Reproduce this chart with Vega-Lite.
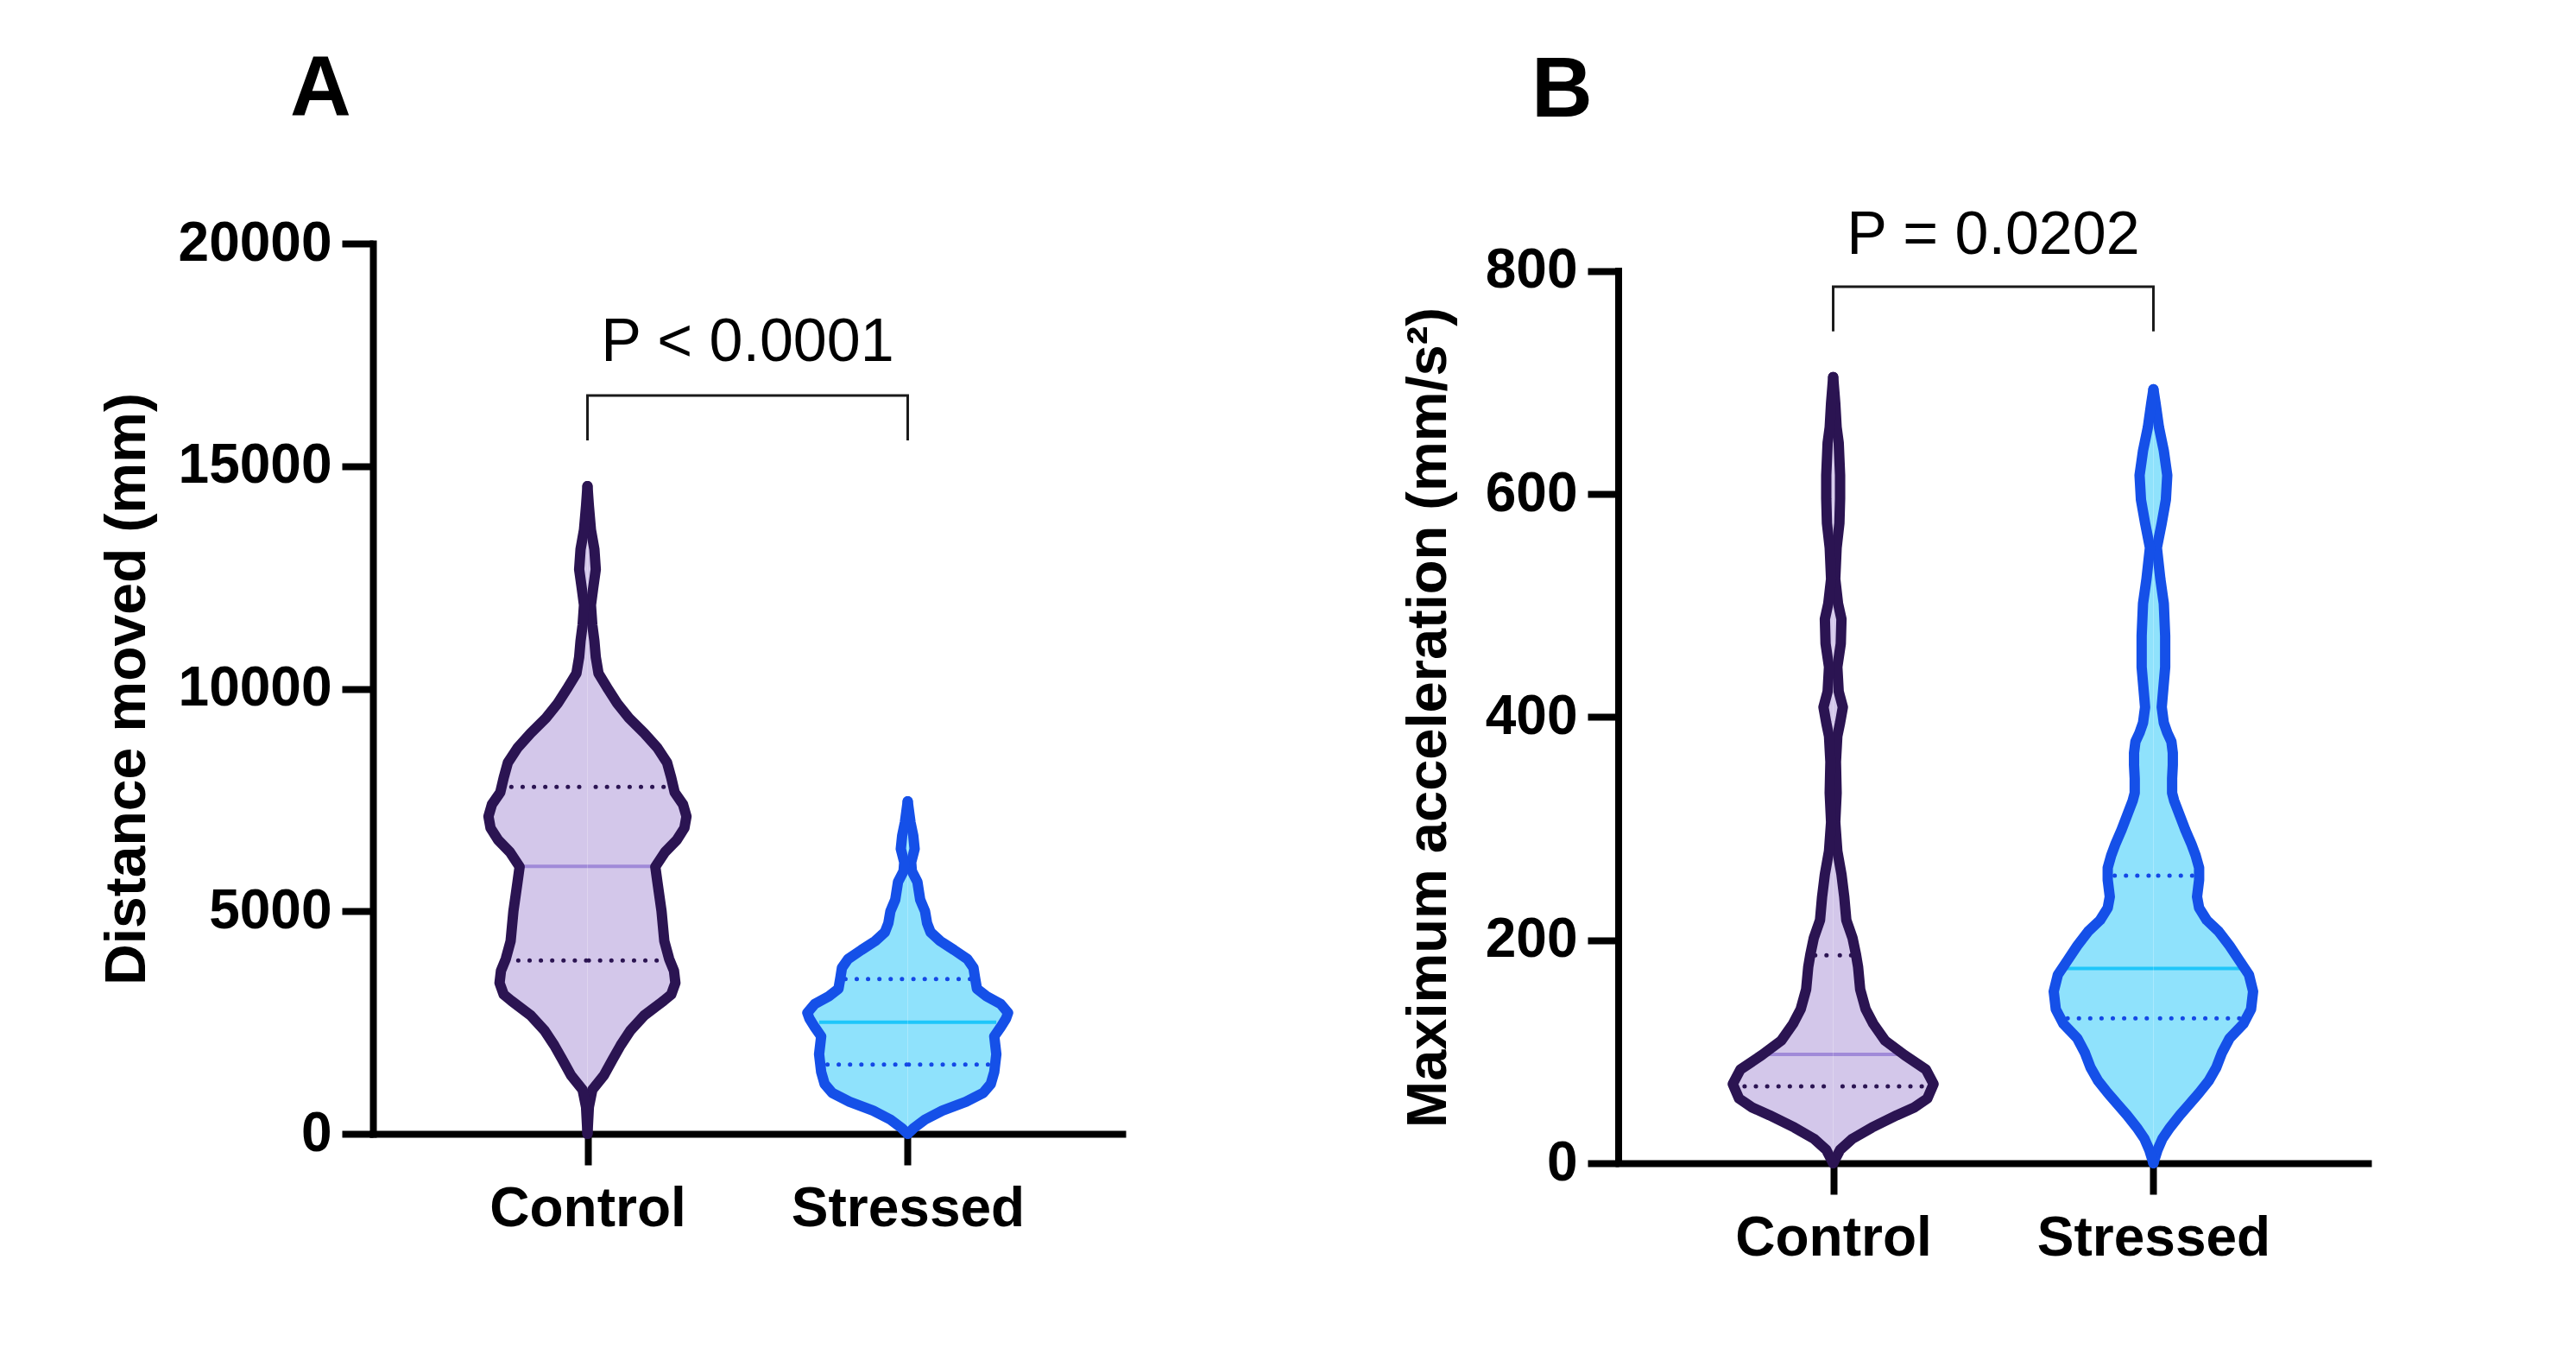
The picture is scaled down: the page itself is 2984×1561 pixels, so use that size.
{
  "$schema": "https://vega.github.io/schema/vega-lite/v6.json",
  "padding": {"left": 114, "top": 55, "right": 20, "bottom": 20},
  "background": "white",
  "spacing": 322,
  "columns": 2,
  "align": "none",
  "datasets": {
    "vA": [
      {"g":"Control","v":0,"w":0},{"g":"Control","v":600,"w":2},{"g":"Control","v":990,"w":7},{"g":"Control","v":1320,"w":24},{"g":"Control","v":1660,"w":36},{"g":"Control","v":1990,"w":48},{"g":"Control","v":2320,"w":62},{"g":"Control","v":2660,"w":82},{"g":"Control","v":2990,"w":110},{"g":"Control","v":3130,"w":121},{"g":"Control","v":3390,"w":127},{"g":"Control","v":3660,"w":125},{"g":"Control","v":3930,"w":118},{"g":"Control","v":4330,"w":111},{"g":"Control","v":5000,"w":107},{"g":"Control","v":5660,"w":101},{"g":"Control","v":6000,"w":98},{"g":"Control","v":6330,"w":112},{"g":"Control","v":6600,"w":129},{"g":"Control","v":6870,"w":140},{"g":"Control","v":7130,"w":143},{"g":"Control","v":7400,"w":138},{"g":"Control","v":7670,"w":126},{"g":"Control","v":8000,"w":121},{"g":"Control","v":8340,"w":115},{"g":"Control","v":8670,"w":101},{"g":"Control","v":9000,"w":82},{"g":"Control","v":9340,"w":60},{"g":"Control","v":9670,"w":43},{"g":"Control","v":10010,"w":29},{"g":"Control","v":10340,"w":16},{"g":"Control","v":10710,"w":12},{"g":"Control","v":11070,"w":10},{"g":"Control","v":11430,"w":7},{"g":"Control","v":11880,"w":5},{"g":"Control","v":12230,"w":8},{"g":"Control","v":12680,"w":12},{"g":"Control","v":13130,"w":10},{"g":"Control","v":13570,"w":5},{"g":"Control","v":14110,"w":2},{"g":"Control","v":14550,"w":0},
      {"g":"Stressed","v":0,"w":0},{"g":"Stressed","v":120,"w":8},{"g":"Stressed","v":320,"w":25},{"g":"Stressed","v":520,"w":50},{"g":"Stressed","v":720,"w":84},{"g":"Stressed","v":920,"w":109},{"g":"Stressed","v":1120,"w":120},{"g":"Stressed","v":1390,"w":125},{"g":"Stressed","v":1790,"w":128},{"g":"Stressed","v":2190,"w":125},{"g":"Stressed","v":2390,"w":134},{"g":"Stressed","v":2590,"w":142},{"g":"Stressed","v":2720,"w":145},{"g":"Stressed","v":2920,"w":134},{"g":"Stressed","v":3090,"w":114},{"g":"Stressed","v":3260,"w":100},{"g":"Stressed","v":3530,"w":97},{"g":"Stressed","v":3730,"w":95},{"g":"Stressed","v":3930,"w":86},{"g":"Stressed","v":4130,"w":67},{"g":"Stressed","v":4330,"w":47},{"g":"Stressed","v":4530,"w":33},{"g":"Stressed","v":4730,"w":28},{"g":"Stressed","v":5000,"w":25},{"g":"Stressed","v":5260,"w":18},{"g":"Stressed","v":5660,"w":14},{"g":"Stressed","v":5900,"w":6},{"g":"Stressed","v":6100,"w":5},{"g":"Stressed","v":6400,"w":10},{"g":"Stressed","v":6700,"w":8},{"g":"Stressed","v":7000,"w":4},{"g":"Stressed","v":7470,"w":0}
    ],
    "qA": [
      {"g":"Control","stat":"Q1","v":3894,"w":100},{"g":"Control","stat":"median","v":6011,"w":93},{"g":"Control","stat":"Q3","v":7795,"w":110},
      {"g":"Stressed","stat":"Q1","v":1556,"w":116},{"g":"Stressed","stat":"median","v":2505,"w":128},{"g":"Stressed","stat":"Q3","v":3479,"w":90}
    ],
    "vB": [
      {"g":"Control","v":0,"w":0},{"g":"Control","v":12,"w":10},{"g":"Control","v":22,"w":28},{"g":"Control","v":32,"w":56},{"g":"Control","v":43,"w":92},{"g":"Control","v":50,"w":117},{"g":"Control","v":58,"w":136},{"g":"Control","v":71,"w":145},{"g":"Control","v":84,"w":134},{"g":"Control","v":97,"w":103},{"g":"Control","v":110,"w":75},{"g":"Control","v":125,"w":58},{"g":"Control","v":138,"w":47},{"g":"Control","v":156,"w":39},{"g":"Control","v":176,"w":36},{"g":"Control","v":187,"w":33},{"g":"Control","v":202,"w":28},{"g":"Control","v":218,"w":19},{"g":"Control","v":239,"w":16},{"g":"Control","v":259,"w":12},{"g":"Control","v":280,"w":6},{"g":"Control","v":306,"w":3},{"g":"Control","v":332,"w":5},{"g":"Control","v":360,"w":4},{"g":"Control","v":383,"w":6},{"g":"Control","v":395,"w":10},{"g":"Control","v":409,"w":14},{"g":"Control","v":423,"w":8},{"g":"Control","v":445,"w":6},{"g":"Control","v":466,"w":11},{"g":"Control","v":488,"w":12},{"g":"Control","v":502,"w":7},{"g":"Control","v":524,"w":3},{"g":"Control","v":552,"w":5},{"g":"Control","v":574,"w":9},{"g":"Control","v":596,"w":10},{"g":"Control","v":617,"w":10},{"g":"Control","v":646,"w":8},{"g":"Control","v":660,"w":5},{"g":"Control","v":682,"w":3},{"g":"Control","v":705,"w":0},
      {"g":"Stressed","v":0,"w":0},{"g":"Stressed","v":12,"w":6},{"g":"Stressed","v":22,"w":13},{"g":"Stressed","v":32,"w":24},{"g":"Stressed","v":43,"w":38},{"g":"Stressed","v":53,"w":52},{"g":"Stressed","v":63,"w":66},{"g":"Stressed","v":74,"w":80},{"g":"Stressed","v":86,"w":91},{"g":"Stressed","v":99,"w":99},{"g":"Stressed","v":112,"w":110},{"g":"Stressed","v":125,"w":130},{"g":"Stressed","v":138,"w":141},{"g":"Stressed","v":154,"w":144},{"g":"Stressed","v":169,"w":138},{"g":"Stressed","v":182,"w":124},{"g":"Stressed","v":195,"w":110},{"g":"Stressed","v":208,"w":94},{"g":"Stressed","v":218,"w":77},{"g":"Stressed","v":229,"w":66},{"g":"Stressed","v":239,"w":63},{"g":"Stressed","v":254,"w":66},{"g":"Stressed","v":265,"w":66},{"g":"Stressed","v":276,"w":61},{"g":"Stressed","v":286,"w":55},{"g":"Stressed","v":299,"w":46},{"g":"Stressed","v":312,"w":38},{"g":"Stressed","v":325,"w":30},{"g":"Stressed","v":332,"w":27},{"g":"Stressed","v":345,"w":27},{"g":"Stressed","v":357,"w":28},{"g":"Stressed","v":368,"w":28},{"g":"Stressed","v":378,"w":26},{"g":"Stressed","v":386,"w":20},{"g":"Stressed","v":395,"w":15},{"g":"Stressed","v":409,"w":12},{"g":"Stressed","v":445,"w":17},{"g":"Stressed","v":473,"w":17},{"g":"Stressed","v":502,"w":15},{"g":"Stressed","v":524,"w":10},{"g":"Stressed","v":552,"w":5},{"g":"Stressed","v":574,"w":12},{"g":"Stressed","v":595,"w":18},{"g":"Stressed","v":617,"w":20},{"g":"Stressed","v":639,"w":15},{"g":"Stressed","v":660,"w":8},{"g":"Stressed","v":682,"w":3},{"g":"Stressed","v":694,"w":0}
    ],
    "qB": [
      {"g":"Control","stat":"Q1","v":69,"w":128},{"g":"Control","stat":"median","v":97.5,"w":100},{"g":"Control","stat":"Q3","v":186.4,"w":26},
      {"g":"Stressed","stat":"Q1","v":130,"w":124},{"g":"Stressed","stat":"median","v":174.7,"w":130},{"g":"Stressed","stat":"Q3","v":257.8,"w":56}
    ]
  },
  "concat": [
    {
      "title": {"text": "A", "dx": -96, "offset": 96},
      "width": 868,
      "height": 1031,
      "resolve": {"scale": {"x": "independent"}, "axis": {"x": "independent"}},
      "layer": [
        {
          "data": {"name": "vA"}, "transform": [{"filter": "datum.g == 'Control'"}],
          "mark": {"type": "area", "orient": "horizontal", "color": "#d3c7ea", "opacity": 1},
          "encoding": {
            "y": {"field": "v", "type": "quantitative", "scale": {"domain": [0, 20000], "nice": false, "zero": true}, "axis": {"values": [0, 5000, 10000, 15000, 20000], "format": "d", "title": "Distance moved (mm)", "titlePadding": 51, "titleFontSize": 66, "domainCap": "square"}},
            "x": {"field": "w", "type": "quantitative", "stack": null, "scale": {"domain": [-309.9, 772.5], "nice": false, "zero": false}, "axis": null},
            "x2": {"datum": 0}
          }
        },
        {
          "layer": [
            {
              "data": {"name": "qA"},
              "transform": [{"filter": "datum.stat == 'median'"}],
              "mark": {"type": "rule", "color": "#1a1a1a", "strokeWidth": 3},
              "encoding": {
                "x": {"field": "g", "type": "nominal", "scale": {"type": "point", "padding": 0.67, "domain": ["Control", "Stressed"]}, "axis": {"title": null, "labelAngle": 0, "labelPadding": 19, "labelLimit": 1000, "domainCap": "square"}},
                "y": {"datum": 15577, "type": "quantitative", "scale": {"domain": [0, 20000], "nice": false, "zero": true}},
                "y2": {"datum": 16586}
              }
            },
            {
              "data": {"name": "qA"},
              "transform": [{"filter": "datum.stat == 'median' && datum.g == 'Control'"}],
              "mark": {"type": "rule", "color": "#1a1a1a", "strokeWidth": 3, "strokeCap": "square"},
              "encoding": {
                "x": {"field": "g", "type": "nominal", "scale": {"type": "point", "padding": 0.67, "domain": ["Control", "Stressed"]}},
                "x2": {"datum": "Stressed"},
                "y": {"datum": 16586, "type": "quantitative", "scale": {"domain": [0, 20000], "nice": false, "zero": true}}
              }
            }
          ]
        },
        {
          "data": {"name": "qA"},
          "transform": [{"filter": "datum.stat == 'median' && datum.g == 'Control'"}],
          "mark": {"type": "text", "font": "Liberation Sans", "fontSize": 70, "color": "black", "baseline": "alphabetic", "align": "center"},
          "encoding": {
            "x": {"datum": 0.5, "type": "quantitative", "scale": {"domain": [0, 1], "nice": false, "zero": false}, "axis": null},
            "y": {"datum": 17362, "type": "quantitative", "scale": {"domain": [0, 20000], "nice": false, "zero": true}},
            "text": {"value": "P < 0.0001"}
          }
        },
        {
          "layer": [
            {
              "data": {"name": "qA"}, "transform": [{"filter": "datum.g == 'Control' && datum.stat != 'median'"}],
              "mark": {"type": "rule", "color": "#2b1452", "strokeWidth": 5, "strokeDash": [0.1, 13], "strokeCap": "round"},
              "encoding": {
                "y": {"field": "v", "type": "quantitative", "scale": {"domain": [0, 20000], "nice": false, "zero": true}},
                "x": {"field": "w", "type": "quantitative", "scale": {"domain": [-309.9, 772.5], "nice": false, "zero": false}, "axis": null},
                "x2": {"datum": 0}
              }
            },
            {
              "data": {"name": "qA"}, "transform": [{"filter": "datum.g == 'Control' && datum.stat == 'median'"}],
              "mark": {"type": "rule", "color": "#a08ad8", "strokeWidth": 4},
              "encoding": {
                "y": {"field": "v", "type": "quantitative", "scale": {"domain": [0, 20000], "nice": false, "zero": true}},
                "x": {"field": "w", "type": "quantitative", "scale": {"domain": [-309.9, 772.5], "nice": false, "zero": false}, "axis": null},
                "x2": {"datum": 0}
              }
            },
            {
              "data": {"name": "vA"}, "transform": [{"filter": "datum.g == 'Control'"}],
              "mark": {"type": "line", "color": "#2b1452", "strokeWidth": 12, "strokeJoin": "round", "strokeCap": "round"},
              "encoding": {
                "y": {"field": "v", "type": "quantitative", "scale": {"domain": [0, 20000], "nice": false, "zero": true}},
                "x": {"field": "w", "type": "quantitative", "scale": {"domain": [-309.9, 772.5], "nice": false, "zero": false}, "axis": null},
                "order": {"field": "v", "type": "quantitative"}
              }
            }
          ]
        },
        {
          "layer": [
            {
              "data": {"name": "vA"}, "transform": [{"filter": "datum.g == 'Control'"}],
              "mark": {"type": "area", "orient": "horizontal", "color": "#d3c7ea", "opacity": 1},
              "encoding": {
                "y": {"field": "v", "type": "quantitative", "scale": {"domain": [0, 20000], "nice": false, "zero": true}},
                "x": {"field": "w", "type": "quantitative", "stack": null, "scale": {"domain": [-772.5, 309.9], "nice": false, "zero": false, "reverse": true}, "axis": null},
                "x2": {"datum": 0}
              }
            },
            {
              "data": {"name": "qA"}, "transform": [{"filter": "datum.g == 'Control' && datum.stat != 'median'"}],
              "mark": {"type": "rule", "color": "#2b1452", "strokeWidth": 5, "strokeDash": [0.1, 13], "strokeCap": "round"},
              "encoding": {
                "y": {"field": "v", "type": "quantitative", "scale": {"domain": [0, 20000], "nice": false, "zero": true}},
                "x": {"field": "w", "type": "quantitative", "scale": {"domain": [-772.5, 309.9], "nice": false, "zero": false, "reverse": true}, "axis": null},
                "x2": {"datum": 0}
              }
            },
            {
              "data": {"name": "qA"}, "transform": [{"filter": "datum.g == 'Control' && datum.stat == 'median'"}],
              "mark": {"type": "rule", "color": "#a08ad8", "strokeWidth": 4},
              "encoding": {
                "y": {"field": "v", "type": "quantitative", "scale": {"domain": [0, 20000], "nice": false, "zero": true}},
                "x": {"field": "w", "type": "quantitative", "scale": {"domain": [-772.5, 309.9], "nice": false, "zero": false, "reverse": true}, "axis": null},
                "x2": {"datum": 0}
              }
            },
            {
              "data": {"name": "vA"}, "transform": [{"filter": "datum.g == 'Control'"}],
              "mark": {"type": "line", "color": "#2b1452", "strokeWidth": 12, "strokeJoin": "round", "strokeCap": "round"},
              "encoding": {
                "y": {"field": "v", "type": "quantitative", "scale": {"domain": [0, 20000], "nice": false, "zero": true}},
                "x": {"field": "w", "type": "quantitative", "scale": {"domain": [-772.5, 309.9], "nice": false, "zero": false, "reverse": true}, "axis": null},
                "order": {"field": "v", "type": "quantitative"}
              }
            }
          ]
        },
        {
          "layer": [
            {
              "data": {"name": "vA"}, "transform": [{"filter": "datum.g == 'Stressed'"}],
              "mark": {"type": "area", "orient": "horizontal", "color": "#8fe2fc", "opacity": 1},
              "encoding": {
                "y": {"field": "v", "type": "quantitative", "scale": {"domain": [0, 20000], "nice": false, "zero": true}},
                "x": {"field": "w", "type": "quantitative", "stack": null, "scale": {"domain": [-772.5, 309.9], "nice": false, "zero": false}, "axis": null},
                "x2": {"datum": 0}
              }
            },
            {
              "data": {"name": "qA"}, "transform": [{"filter": "datum.g == 'Stressed' && datum.stat != 'median'"}],
              "mark": {"type": "rule", "color": "#1448e6", "strokeWidth": 5, "strokeDash": [0.1, 13], "strokeCap": "round"},
              "encoding": {
                "y": {"field": "v", "type": "quantitative", "scale": {"domain": [0, 20000], "nice": false, "zero": true}},
                "x": {"field": "w", "type": "quantitative", "scale": {"domain": [-772.5, 309.9], "nice": false, "zero": false}, "axis": null},
                "x2": {"datum": 0}
              }
            },
            {
              "data": {"name": "qA"}, "transform": [{"filter": "datum.g == 'Stressed' && datum.stat == 'median'"}],
              "mark": {"type": "rule", "color": "#1fc6fa", "strokeWidth": 4},
              "encoding": {
                "y": {"field": "v", "type": "quantitative", "scale": {"domain": [0, 20000], "nice": false, "zero": true}},
                "x": {"field": "w", "type": "quantitative", "scale": {"domain": [-772.5, 309.9], "nice": false, "zero": false}, "axis": null},
                "x2": {"datum": 0}
              }
            },
            {
              "data": {"name": "vA"}, "transform": [{"filter": "datum.g == 'Stressed'"}],
              "mark": {"type": "line", "color": "#1550e8", "strokeWidth": 12, "strokeJoin": "round", "strokeCap": "round"},
              "encoding": {
                "y": {"field": "v", "type": "quantitative", "scale": {"domain": [0, 20000], "nice": false, "zero": true}},
                "x": {"field": "w", "type": "quantitative", "scale": {"domain": [-772.5, 309.9], "nice": false, "zero": false}, "axis": null},
                "order": {"field": "v", "type": "quantitative"}
              }
            }
          ]
        },
        {
          "layer": [
            {
              "data": {"name": "vA"}, "transform": [{"filter": "datum.g == 'Stressed'"}],
              "mark": {"type": "area", "orient": "horizontal", "color": "#8fe2fc", "opacity": 1},
              "encoding": {
                "y": {"field": "v", "type": "quantitative", "scale": {"domain": [0, 20000], "nice": false, "zero": true}},
                "x": {"field": "w", "type": "quantitative", "stack": null, "scale": {"domain": [-309.9, 772.5], "nice": false, "zero": false, "reverse": true}, "axis": null},
                "x2": {"datum": 0}
              }
            },
            {
              "data": {"name": "qA"}, "transform": [{"filter": "datum.g == 'Stressed' && datum.stat != 'median'"}],
              "mark": {"type": "rule", "color": "#1448e6", "strokeWidth": 5, "strokeDash": [0.1, 13], "strokeCap": "round"},
              "encoding": {
                "y": {"field": "v", "type": "quantitative", "scale": {"domain": [0, 20000], "nice": false, "zero": true}},
                "x": {"field": "w", "type": "quantitative", "scale": {"domain": [-309.9, 772.5], "nice": false, "zero": false, "reverse": true}, "axis": null},
                "x2": {"datum": 0}
              }
            },
            {
              "data": {"name": "qA"}, "transform": [{"filter": "datum.g == 'Stressed' && datum.stat == 'median'"}],
              "mark": {"type": "rule", "color": "#1fc6fa", "strokeWidth": 4},
              "encoding": {
                "y": {"field": "v", "type": "quantitative", "scale": {"domain": [0, 20000], "nice": false, "zero": true}},
                "x": {"field": "w", "type": "quantitative", "scale": {"domain": [-309.9, 772.5], "nice": false, "zero": false, "reverse": true}, "axis": null},
                "x2": {"datum": 0}
              }
            },
            {
              "data": {"name": "vA"}, "transform": [{"filter": "datum.g == 'Stressed'"}],
              "mark": {"type": "line", "color": "#1550e8", "strokeWidth": 12, "strokeJoin": "round", "strokeCap": "round"},
              "encoding": {
                "y": {"field": "v", "type": "quantitative", "scale": {"domain": [0, 20000], "nice": false, "zero": true}},
                "x": {"field": "w", "type": "quantitative", "scale": {"domain": [-309.9, 772.5], "nice": false, "zero": false, "reverse": true}, "axis": null},
                "order": {"field": "v", "type": "quantitative"}
              }
            }
          ]
        }
      ]
    },
    {
      "title": {"text": "B", "dx": -101, "offset": 82},
      "width": 868,
      "height": 1065,
      "resolve": {"scale": {"x": "independent"}, "axis": {"x": "independent"}},
      "layer": [
        {
          "data": {"name": "vB"}, "transform": [{"filter": "datum.g == 'Control'"}],
          "mark": {"type": "area", "orient": "horizontal", "color": "#d3c7ea", "opacity": 1},
          "encoding": {
            "y": {"field": "v", "type": "quantitative", "scale": {"domain": [0, 824.78], "nice": false, "zero": true}, "axis": {"values": [0, 200, 400, 600, 800], "format": "d", "domain": false, "title": "Maximum acceleration (mm/s²)", "titlePadding": 32, "titleFontSize": 65, "titleY": 548.5}},
            "x": {"field": "w", "type": "quantitative", "stack": null, "scale": {"domain": [-309.9, 772.5], "nice": false, "zero": false}, "axis": null},
            "x2": {"datum": 0}
          }
        },
        {
          "data": {"name": "qB"},
          "transform": [{"filter": "datum.stat == 'median' && datum.g == 'Control'"}],
          "mark": {"type": "rule", "color": "black", "strokeWidth": 8, "strokeCap": "square"},
          "encoding": {
            "x": {"datum": 0, "type": "quantitative", "scale": {"domain": [0, 1], "nice": false, "zero": false}, "axis": null},
            "y": {"datum": 0, "type": "quantitative", "scale": {"domain": [0, 824.78], "nice": false, "zero": true}},
            "y2": {"datum": 800}
          }
        },
        {
          "layer": [
            {
              "data": {"name": "qB"},
              "transform": [{"filter": "datum.stat == 'median'"}],
              "mark": {"type": "rule", "color": "#1a1a1a", "strokeWidth": 3},
              "encoding": {
                "x": {"field": "g", "type": "nominal", "scale": {"type": "point", "padding": 0.67, "domain": ["Control", "Stressed"]}, "axis": {"title": null, "labelAngle": 0, "labelPadding": 19, "labelLimit": 1000, "domainCap": "square"}},
                "y": {"datum": 746, "type": "quantitative", "scale": {"domain": [0, 824.78], "nice": false, "zero": true}},
                "y2": {"datum": 786}
              }
            },
            {
              "data": {"name": "qB"},
              "transform": [{"filter": "datum.stat == 'median' && datum.g == 'Control'"}],
              "mark": {"type": "rule", "color": "#1a1a1a", "strokeWidth": 3, "strokeCap": "square"},
              "encoding": {
                "x": {"field": "g", "type": "nominal", "scale": {"type": "point", "padding": 0.67, "domain": ["Control", "Stressed"]}},
                "x2": {"datum": "Stressed"},
                "y": {"datum": 786, "type": "quantitative", "scale": {"domain": [0, 824.78], "nice": false, "zero": true}}
              }
            }
          ]
        },
        {
          "data": {"name": "qB"},
          "transform": [{"filter": "datum.stat == 'median' && datum.g == 'Control'"}],
          "mark": {"type": "text", "font": "Liberation Sans", "fontSize": 70, "color": "black", "baseline": "alphabetic", "align": "center"},
          "encoding": {
            "x": {"datum": 0.5, "type": "quantitative", "scale": {"domain": [0, 1], "nice": false, "zero": false}, "axis": null},
            "y": {"datum": 815.8, "type": "quantitative", "scale": {"domain": [0, 824.78], "nice": false, "zero": true}},
            "text": {"value": "P = 0.0202"}
          }
        },
        {
          "layer": [
            {
              "data": {"name": "qB"}, "transform": [{"filter": "datum.g == 'Control' && datum.stat != 'median'"}],
              "mark": {"type": "rule", "color": "#2b1452", "strokeWidth": 5, "strokeDash": [0.1, 13], "strokeCap": "round"},
              "encoding": {
                "y": {"field": "v", "type": "quantitative", "scale": {"domain": [0, 824.78], "nice": false, "zero": true}},
                "x": {"field": "w", "type": "quantitative", "scale": {"domain": [-309.9, 772.5], "nice": false, "zero": false}, "axis": null},
                "x2": {"datum": 0}
              }
            },
            {
              "data": {"name": "qB"}, "transform": [{"filter": "datum.g == 'Control' && datum.stat == 'median'"}],
              "mark": {"type": "rule", "color": "#a08ad8", "strokeWidth": 4},
              "encoding": {
                "y": {"field": "v", "type": "quantitative", "scale": {"domain": [0, 824.78], "nice": false, "zero": true}},
                "x": {"field": "w", "type": "quantitative", "scale": {"domain": [-309.9, 772.5], "nice": false, "zero": false}, "axis": null},
                "x2": {"datum": 0}
              }
            },
            {
              "data": {"name": "vB"}, "transform": [{"filter": "datum.g == 'Control'"}],
              "mark": {"type": "line", "color": "#2b1452", "strokeWidth": 12, "strokeJoin": "round", "strokeCap": "round"},
              "encoding": {
                "y": {"field": "v", "type": "quantitative", "scale": {"domain": [0, 824.78], "nice": false, "zero": true}},
                "x": {"field": "w", "type": "quantitative", "scale": {"domain": [-309.9, 772.5], "nice": false, "zero": false}, "axis": null},
                "order": {"field": "v", "type": "quantitative"}
              }
            }
          ]
        },
        {
          "layer": [
            {
              "data": {"name": "vB"}, "transform": [{"filter": "datum.g == 'Control'"}],
              "mark": {"type": "area", "orient": "horizontal", "color": "#d3c7ea", "opacity": 1},
              "encoding": {
                "y": {"field": "v", "type": "quantitative", "scale": {"domain": [0, 824.78], "nice": false, "zero": true}},
                "x": {"field": "w", "type": "quantitative", "stack": null, "scale": {"domain": [-772.5, 309.9], "nice": false, "zero": false, "reverse": true}, "axis": null},
                "x2": {"datum": 0}
              }
            },
            {
              "data": {"name": "qB"}, "transform": [{"filter": "datum.g == 'Control' && datum.stat != 'median'"}],
              "mark": {"type": "rule", "color": "#2b1452", "strokeWidth": 5, "strokeDash": [0.1, 13], "strokeCap": "round"},
              "encoding": {
                "y": {"field": "v", "type": "quantitative", "scale": {"domain": [0, 824.78], "nice": false, "zero": true}},
                "x": {"field": "w", "type": "quantitative", "scale": {"domain": [-772.5, 309.9], "nice": false, "zero": false, "reverse": true}, "axis": null},
                "x2": {"datum": 0}
              }
            },
            {
              "data": {"name": "qB"}, "transform": [{"filter": "datum.g == 'Control' && datum.stat == 'median'"}],
              "mark": {"type": "rule", "color": "#a08ad8", "strokeWidth": 4},
              "encoding": {
                "y": {"field": "v", "type": "quantitative", "scale": {"domain": [0, 824.78], "nice": false, "zero": true}},
                "x": {"field": "w", "type": "quantitative", "scale": {"domain": [-772.5, 309.9], "nice": false, "zero": false, "reverse": true}, "axis": null},
                "x2": {"datum": 0}
              }
            },
            {
              "data": {"name": "vB"}, "transform": [{"filter": "datum.g == 'Control'"}],
              "mark": {"type": "line", "color": "#2b1452", "strokeWidth": 12, "strokeJoin": "round", "strokeCap": "round"},
              "encoding": {
                "y": {"field": "v", "type": "quantitative", "scale": {"domain": [0, 824.78], "nice": false, "zero": true}},
                "x": {"field": "w", "type": "quantitative", "scale": {"domain": [-772.5, 309.9], "nice": false, "zero": false, "reverse": true}, "axis": null},
                "order": {"field": "v", "type": "quantitative"}
              }
            }
          ]
        },
        {
          "layer": [
            {
              "data": {"name": "vB"}, "transform": [{"filter": "datum.g == 'Stressed'"}],
              "mark": {"type": "area", "orient": "horizontal", "color": "#8fe2fc", "opacity": 1},
              "encoding": {
                "y": {"field": "v", "type": "quantitative", "scale": {"domain": [0, 824.78], "nice": false, "zero": true}},
                "x": {"field": "w", "type": "quantitative", "stack": null, "scale": {"domain": [-772.5, 309.9], "nice": false, "zero": false}, "axis": null},
                "x2": {"datum": 0}
              }
            },
            {
              "data": {"name": "qB"}, "transform": [{"filter": "datum.g == 'Stressed' && datum.stat != 'median'"}],
              "mark": {"type": "rule", "color": "#1448e6", "strokeWidth": 5, "strokeDash": [0.1, 13], "strokeCap": "round"},
              "encoding": {
                "y": {"field": "v", "type": "quantitative", "scale": {"domain": [0, 824.78], "nice": false, "zero": true}},
                "x": {"field": "w", "type": "quantitative", "scale": {"domain": [-772.5, 309.9], "nice": false, "zero": false}, "axis": null},
                "x2": {"datum": 0}
              }
            },
            {
              "data": {"name": "qB"}, "transform": [{"filter": "datum.g == 'Stressed' && datum.stat == 'median'"}],
              "mark": {"type": "rule", "color": "#1fc6fa", "strokeWidth": 4},
              "encoding": {
                "y": {"field": "v", "type": "quantitative", "scale": {"domain": [0, 824.78], "nice": false, "zero": true}},
                "x": {"field": "w", "type": "quantitative", "scale": {"domain": [-772.5, 309.9], "nice": false, "zero": false}, "axis": null},
                "x2": {"datum": 0}
              }
            },
            {
              "data": {"name": "vB"}, "transform": [{"filter": "datum.g == 'Stressed'"}],
              "mark": {"type": "line", "color": "#1550e8", "strokeWidth": 12, "strokeJoin": "round", "strokeCap": "round"},
              "encoding": {
                "y": {"field": "v", "type": "quantitative", "scale": {"domain": [0, 824.78], "nice": false, "zero": true}},
                "x": {"field": "w", "type": "quantitative", "scale": {"domain": [-772.5, 309.9], "nice": false, "zero": false}, "axis": null},
                "order": {"field": "v", "type": "quantitative"}
              }
            }
          ]
        },
        {
          "layer": [
            {
              "data": {"name": "vB"}, "transform": [{"filter": "datum.g == 'Stressed'"}],
              "mark": {"type": "area", "orient": "horizontal", "color": "#8fe2fc", "opacity": 1},
              "encoding": {
                "y": {"field": "v", "type": "quantitative", "scale": {"domain": [0, 824.78], "nice": false, "zero": true}},
                "x": {"field": "w", "type": "quantitative", "stack": null, "scale": {"domain": [-309.9, 772.5], "nice": false, "zero": false, "reverse": true}, "axis": null},
                "x2": {"datum": 0}
              }
            },
            {
              "data": {"name": "qB"}, "transform": [{"filter": "datum.g == 'Stressed' && datum.stat != 'median'"}],
              "mark": {"type": "rule", "color": "#1448e6", "strokeWidth": 5, "strokeDash": [0.1, 13], "strokeCap": "round"},
              "encoding": {
                "y": {"field": "v", "type": "quantitative", "scale": {"domain": [0, 824.78], "nice": false, "zero": true}},
                "x": {"field": "w", "type": "quantitative", "scale": {"domain": [-309.9, 772.5], "nice": false, "zero": false, "reverse": true}, "axis": null},
                "x2": {"datum": 0}
              }
            },
            {
              "data": {"name": "qB"}, "transform": [{"filter": "datum.g == 'Stressed' && datum.stat == 'median'"}],
              "mark": {"type": "rule", "color": "#1fc6fa", "strokeWidth": 4},
              "encoding": {
                "y": {"field": "v", "type": "quantitative", "scale": {"domain": [0, 824.78], "nice": false, "zero": true}},
                "x": {"field": "w", "type": "quantitative", "scale": {"domain": [-309.9, 772.5], "nice": false, "zero": false, "reverse": true}, "axis": null},
                "x2": {"datum": 0}
              }
            },
            {
              "data": {"name": "vB"}, "transform": [{"filter": "datum.g == 'Stressed'"}],
              "mark": {"type": "line", "color": "#1550e8", "strokeWidth": 12, "strokeJoin": "round", "strokeCap": "round"},
              "encoding": {
                "y": {"field": "v", "type": "quantitative", "scale": {"domain": [0, 824.78], "nice": false, "zero": true}},
                "x": {"field": "w", "type": "quantitative", "scale": {"domain": [-309.9, 772.5], "nice": false, "zero": false, "reverse": true}, "axis": null},
                "order": {"field": "v", "type": "quantitative"}
              }
            }
          ]
        }
      ]
    }
  ],
  "config": {
    "view": {"stroke": null},
    "font": "Liberation Sans",
    "axis": {
      "grid": false,
      "domainColor": "black",
      "domainWidth": 8,
      "tickColor": "black",
      "tickWidth": 8,
      "tickSize": 36,
      "labelFont": "Liberation Sans",
      "labelFontSize": 64,
      "labelFontWeight": "bold",
      "labelColor": "black",
      "labelPadding": 12,
      "titleFont": "Liberation Sans",
      "titleFontSize": 64,
      "titleFontWeight": "bold",
      "titleColor": "black"
    },
    "title": {
      "font": "Liberation Sans",
      "fontSize": 98,
      "fontWeight": "bold",
      "color": "black",
      "anchor": "start",
      "frame": "group"
    }
  }
}
